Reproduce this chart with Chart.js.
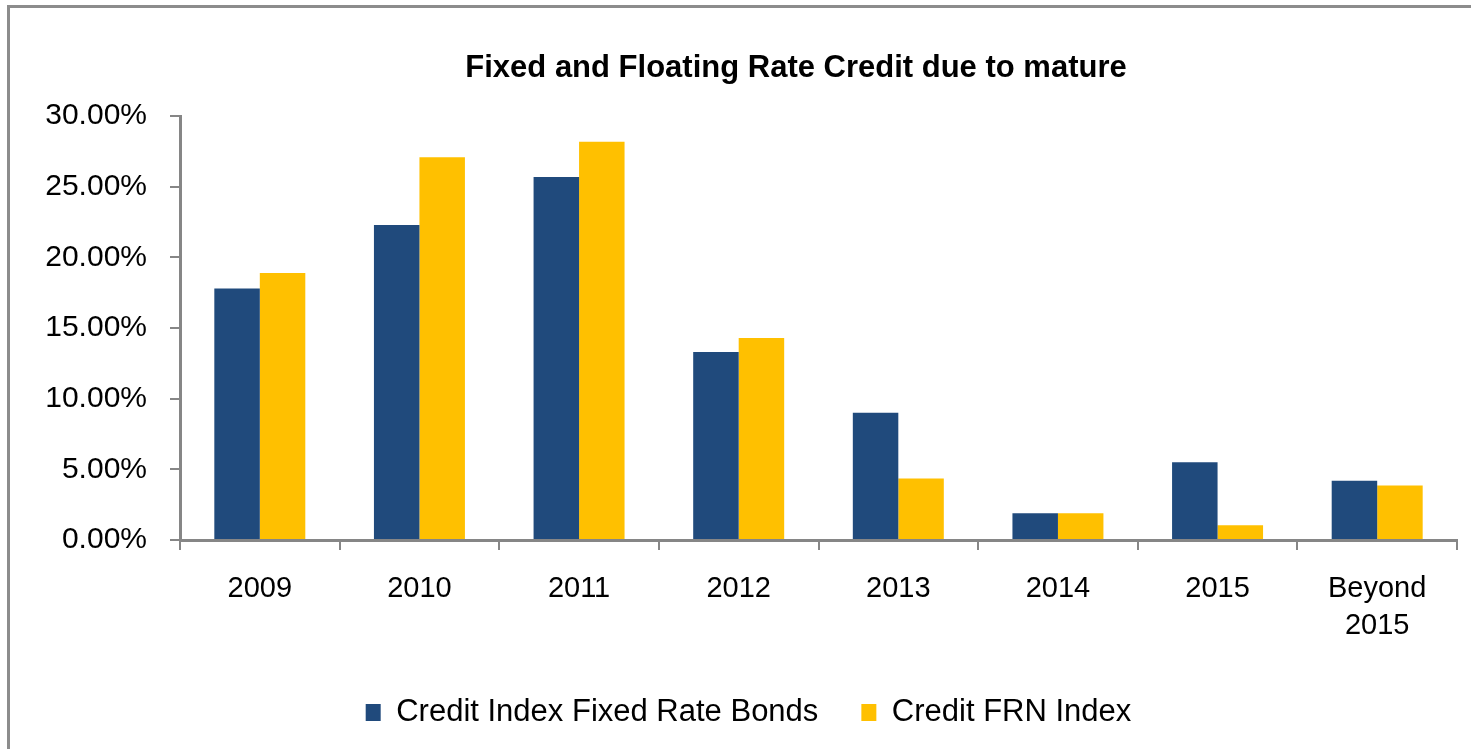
<!DOCTYPE html>
<html>
<head>
<meta charset="utf-8">
<title>Fixed and Floating Rate Credit due to mature</title>
<script src="https://cdn.jsdelivr.net/npm/chart.js@4/dist/chart.umd.min.js"></script>
<style>
  html, body { margin: 0; padding: 0; background: #fff; overflow: hidden; }
  #wrap { position: relative; width: 1471px; height: 749px; }
  #frame {
    position: absolute; left: 7px; top: 5px; width: 1500px; height: 800px;
    border-left: 3px solid #8c8c8c; border-top: 3px solid #8c8c8c;
    pointer-events: none;
  }
  canvas { position: absolute; left: 0; top: 0; }
</style>
</head>
<body>
<div id="wrap">
  <canvas id="maturityChart" width="1471" height="749"></canvas>
  <div id="frame"></div>
</div>
<script>
// maturity buckets and share of each index (in %)
const years = ["2009", "2010", "2011", "2012", "2013", "2014", "2015", ["Beyond", "2015"]];
const fixedRate = [17.8, 22.3, 25.7, 13.3, 9.0, 1.9, 5.5, 4.2];
const frnIndex = [18.9, 27.1, 28.2, 14.3, 4.35, 1.9, 1.05, 3.85];
const yTicks = [0, 5, 10, 15, 20, 25, 30];

const seriesNames = ["Credit Index Fixed Rate Bonds", "Credit FRN Index"];
const NAVY = "#204a7c";
const GOLD = "#ffc000";
const AXIS_GREY = "#868686";
const FONT = "'Liberation Sans', Arial, sans-serif";

// the title sits over the plot plus part of the value labels, not just the plot
const titleSpan = {
  id: "titleSpan",
  afterLayout: function(chart) {
    const t = chart.titleBlock;
    if (t) { t.left = 135; t.right = chart.chartArea.right; }
  }
};

document.addEventListener("DOMContentLoaded", function() {
  const ctx = document.getElementById("maturityChart").getContext("2d");

  new Chart(ctx, {
    type: "bar",
    data: {
      labels: years,
      datasets: [
        {
          label: seriesNames[0],
          data: fixedRate,
          backgroundColor: NAVY,
          categoryPercentage: 0.57,
          barPercentage: 1.0
        },
        {
          label: seriesNames[1],
          data: frnIndex,
          backgroundColor: GOLD,
          categoryPercentage: 0.57,
          barPercentage: 1.0
        }
      ]
    },
    plugins: [titleSpan],
    options: {
      responsive: false,
      animation: false,
      layout: {
        padding: { left: 40, right: 14, top: 0, bottom: 11 }
      },
      plugins: {
        title: {
          display: true,
          text: "Fixed and Floating Rate Credit due to mature",
          fullSize: false,
          color: "#000",
          font: { family: FONT, size: 31, weight: "bold", lineHeight: 1.2 },
          padding: { top: 50, bottom: 29 }
        },
        legend: {
          display: true,
          position: "bottom",
          labels: {
            color: "#000",
            font: { family: FONT, size: 31 },
            boxWidth: 15,
            boxHeight: 17,
            padding: 43
          }
        },
        tooltip: { enabled: false }
      },
      scales: {
        x: {
          afterFit: function(scale) { scale.height = 114; },
          grid: {
            display: true,
            offset: true,
            drawOnChartArea: false,
            drawTicks: true,
            tickLength: 10,
            color: AXIS_GREY,
            lineWidth: 2
          },
          border: { display: true, color: AXIS_GREY, width: 3 },
          ticks: {
            color: "#000",
            padding: 20,
            maxRotation: 0,
            font: { family: FONT, size: 29, lineHeight: 1.28 }
          }
        },
        y: {
          min: 0,
          max: 30,
          afterFit: function(scale) { scale.width = 140; },
          afterBuildTicks: function(scale) {
            scale.ticks = yTicks.map(function(v) { return { value: v }; });
          },
          grid: {
            display: true,
            drawOnChartArea: false,
            drawTicks: true,
            tickLength: 10,
            color: AXIS_GREY,
            lineWidth: 2
          },
          border: { display: true, color: AXIS_GREY, width: 3 },
          ticks: {
            color: "#000",
            padding: 23,
            font: { family: FONT, size: 30 },
            callback: function(value) { return value.toFixed(2) + "%"; }
          }
        }
      }
    }
  });
});
</script>
</body>
</html>
